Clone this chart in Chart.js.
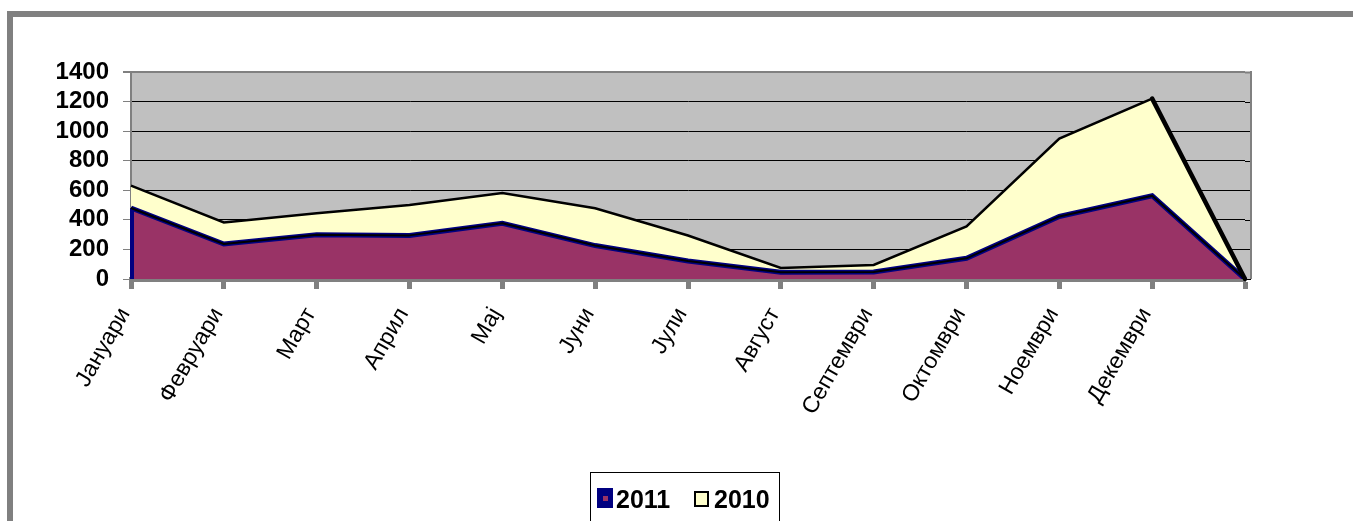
<!DOCTYPE html>
<html>
<head>
<meta charset="utf-8">
<script src="https://cdn.jsdelivr.net/npm/chart.js@4/dist/chart.umd.min.js"></script>
<style>
    html, body { margin: 0; padding: 0; background: #fff; overflow: hidden; }
    #frame {
        position: absolute; left: 7px; top: 11px;
        width: 1340px; height: 504px;
        border-left: 6px solid #808080; border-top: 6px solid #808080;
    }
    #chart { display: block; }
</style>
</head>
<body>
<div id="frame"><canvas id="chart" width="1340" height="504"></canvas></div>
<script>
// months (last category is empty, as in the source sheet)
const months = ['Јануари', 'Февруари', 'Март', 'Април', 'Мај', 'Јуни', 'Јули',
    'Август', 'Септември', 'Октомври', 'Ноември', 'Декември', ''];

// stacked area values
const values2011 = [480, 237, 300, 295, 377, 226, 122, 45, 47, 140, 423, 563, 0];
const values2010 = [152, 145, 145, 205, 204, 253, 172, 30, 48, 215, 526, 657, 0];

const yTicks = { min: 0, max: 1400, step: 200 };

const plotBg = {
    id: 'plotBg',
    beforeDraw(chart) {
        const { ctx, chartArea: a } = chart;
        ctx.save();
        ctx.fillStyle = '#C0C0C0';
        ctx.fillRect(a.left, a.top, a.right - a.left + 6, a.bottom - a.top);
        ctx.restore();
    },
    beforeDatasetsDraw(chart) {
        // grid continues a few px past the last category, like the original
        const { ctx, chartArea: a, scales } = chart;
        ctx.save();
        scales.y.ticks.forEach(t => {
            const y = Math.round(scales.y.getPixelForValue(t.value)) + 0.5;
            ctx.strokeStyle = t.value === yTicks.max ? '#808080' : '#000';
            ctx.lineWidth = t.value === yTicks.max ? 2 : 1;
            ctx.beginPath();
            ctx.moveTo(a.right, y);
            ctx.lineTo(a.right + 6, y);
            ctx.stroke();
        });
        ctx.strokeStyle = '#808080';
        ctx.lineWidth = 2;
        ctx.beginPath();
        ctx.moveTo(a.right + 6, a.top - 1);
        ctx.lineTo(a.right + 6, a.bottom);
        ctx.stroke();
        ctx.restore();
    },
    afterDatasetsDraw(chart) {
        // black outline of the 2010 band along its lower edge, navy left edge of 2011
        const { ctx, scales } = chart;
        const pts = chart.getDatasetMeta(0).data;
        const top = chart.getDatasetMeta(1).data;
        const base = scales.y.getPixelForValue(0);
        ctx.save();
        ctx.strokeStyle = '#000080';
        ctx.lineWidth = 4;
        ctx.beginPath();
        ctx.moveTo(pts[0].x + 1, pts[0].y);
        ctx.lineTo(pts[0].x + 1, base);
        ctx.stroke();
        ctx.strokeStyle = '#000';
        ctx.lineWidth = 2;
        ctx.lineJoin = 'round';
        ctx.beginPath();
        pts.forEach((p, i) => i ? ctx.lineTo(p.x, p.y) : ctx.moveTo(p.x, p.y));
        ctx.stroke();
        // heavier closing edge of the 2010 band
        const n = top.length;
        ctx.lineWidth = 4.5;
        ctx.lineCap = 'round';
        ctx.beginPath();
        ctx.moveTo(top[n - 2].x, top[n - 2].y);
        ctx.lineTo(top[n - 1].x, top[n - 1].y);
        ctx.stroke();
        ctx.restore();
    },
    afterDraw(chart) {
        const ctx = chart.ctx;
        ctx.save();
        ctx.strokeStyle = '#000';
        ctx.lineWidth = 1;
        ctx.strokeRect(577.5, 455.5, 189, 60);

        ctx.fillStyle = '#000080';
        ctx.fillRect(584, 471, 16, 20);
        ctx.fillStyle = '#993366';
        ctx.fillRect(590, 479, 5, 5);

        ctx.fillStyle = '#FFFFCC';
        ctx.fillRect(681, 474, 15, 16);
        ctx.strokeStyle = '#000';
        ctx.lineWidth = 2;
        ctx.strokeRect(682, 475, 13, 14);

        ctx.fillStyle = '#000';
        ctx.font = 'bold 25px "Liberation Sans", Arial, sans-serif';
        ctx.textBaseline = 'alphabetic';
        ctx.fillText('2011', 603, 491);
        ctx.fillText('2010', 701, 491);
        ctx.restore();
    }
};

new Chart(document.getElementById('chart'), {
    type: 'line',
    data: {
        labels: months,
        datasets: [{
            label: '2011',
            data: values2011,
            fill: 'origin',
            backgroundColor: '#993366',
            borderColor: '#000080',
            borderWidth: 5,
            pointRadius: 0,
            tension: 0
        }, {
            label: '2010',
            data: values2010,
            fill: '-1',
            backgroundColor: '#FFFFCC',
            borderColor: '#000',
            borderWidth: 2.5,
            pointRadius: 0,
            tension: 0
        }]
    },
    options: {
        responsive: false,
        animation: false,
        layout: { padding: { top: 55, right: 108, left: 0, bottom: 0 } },
        plugins: { legend: { display: false }, tooltip: { enabled: false } },
        scales: {
            x: {
                z: 1,
                offset: false,
                afterFit: s => { s.height = 242; },
                border: { color: '#808080', width: 5 },
                grid: { drawOnChartArea: false, tickLength: 10, tickWidth: 5, tickColor: '#808080' },
                ticks: {
                    autoSkip: false,
                    minRotation: 60,
                    maxRotation: 60,
                    padding: 14,
                    labelOffset: -6,
                    color: '#000',
                    font: { family: '"Liberation Sans", Arial, sans-serif', size: 23 }
                }
            },
            y: {
                stacked: true,
                min: yTicks.min,
                max: yTicks.max,
                afterFit: s => { s.width = 118; },
                border: { color: '#808080', width: 2 },
                grid: {
                    color: c => c.tick && c.tick.value === yTicks.max ? '#808080' : '#000',
                    lineWidth: c => c.tick && c.tick.value === yTicks.max ? 2 : 1,
                    tickLength: 8,
                    tickColor: '#808080'
                },
                ticks: {
                    autoSkip: false,
                    stepSize: yTicks.step,
                    padding: 14,
                    color: '#000',
                    callback: v => String(v),
                    font: { family: '"Liberation Sans", Arial, sans-serif', size: 24, weight: 'bold' }
                }
            }
        }
    },
    plugins: [plotBg]
});
</script>
</body>
</html>
